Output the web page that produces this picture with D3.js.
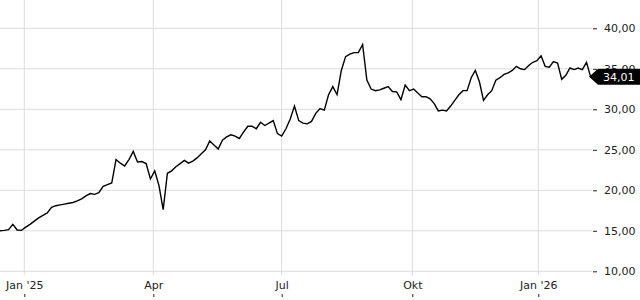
<!DOCTYPE html>
<html>
  <head>
    <meta charset="utf-8">
    <title>Kursverlauf</title>
    <style>
      body { margin: 0; background: #fff; }
      text { font-family: "DejaVu Sans", sans-serif; }
    </style>
  </head>
  <body>
    <script src="https://cdn.jsdelivr.net/npm/d3@7"></script>
    <script type="text/javascript">
      // x axis anchors and labels
      var tickDates = ["2025-01-01", "2025-04-01", "2025-07-01", "2025-10-01", "2026-01-01"];
      var tickLabels = ["Jan '25", "Apr", "Jul", "Okt", "Jan '26"];
      var yTicks = [10, 15, 20, 25, 30, 35, 40];

      // closing prices, one every 3 calendar days from startDate
      var startDate = "2024-12-15";
      var endDate = "2026-02-09";
      var stepDays = 3;
      var prices = [
        15.0, 15.05, 15.15, 15.8, 15.1, 15.05, 15.45, 15.8, 16.2, 16.6,
        16.9, 17.2, 17.9, 18.1, 18.2, 18.3, 18.4, 18.5, 18.7, 18.95,
        19.3, 19.6, 19.5, 19.7, 20.5, 20.7, 20.9, 23.8, 23.35, 23.0,
        23.8, 24.8, 23.5, 23.55, 23.3, 21.4, 22.4, 20.6, 17.6, 22.1,
        22.4, 22.9, 23.3, 23.7, 23.35, 23.6, 24.0, 24.5, 25.0, 26.1,
        25.6, 25.1, 26.2, 26.6, 26.85, 26.7, 26.4, 27.2, 27.9, 27.9,
        27.6, 28.4, 28.0, 28.3, 28.6, 27.0, 26.7, 27.6, 28.8, 30.4,
        28.6, 28.3, 28.2, 28.5, 29.5, 30.1, 29.9, 31.8, 32.8, 31.8,
        34.8, 36.5, 36.8, 37.0, 37.0, 38.0, 33.6, 32.5, 32.3, 32.4,
        32.6, 32.8, 32.2, 32.15, 31.2, 33.0, 32.3, 32.5, 32.0, 31.55,
        31.55, 31.3, 30.7, 29.8, 29.9, 29.8, 30.4, 31.1, 31.8, 32.3,
        32.3, 33.9, 34.8, 33.4, 31.1, 31.8, 32.3, 33.6, 33.9, 34.3,
        34.5, 34.8, 35.3, 35.0, 34.9, 35.4, 35.8, 36.0, 36.6, 35.3,
        35.2, 35.9, 35.7, 33.7, 34.2, 35.1, 34.9, 35.1, 34.9, 35.8,
        34.01
      ];
      var lastPrice = 34.01;

      var width = 640;
      var height = 300;
      var plotRight = 592;
      var plotTop = 28.3;
      var plotBottom = 271.3;

      var parse = d3.utcParse("%Y-%m-%d");
      var t0 = parse(startDate);
      var data = prices.map(function(v, i) {
        return { date: d3.utcDay.offset(t0, i * stepDays), value: v };
      });

      var de = d3.formatLocale({ decimal: ",", thousands: ".", grouping: [3], currency: ["", " €"] });
      var fmt = de.format(".2f");

      // piecewise time scale so the quarter gridlines line up with the reference
      var x = d3.scaleUtc()
        .domain([t0].concat(tickDates.map(parse), [parse(endDate)]))
        .range([0, 24.3, 153.3, 281.7, 412.3, 538.3, plotRight]);
      var y = d3.scaleLinear().domain([10, 40]).range([plotBottom, plotTop]);

      var svg = d3.select("body").append("svg")
        .attr("width", width)
        .attr("height", height);

      // horizontal grid
      svg.append("g").selectAll("line")
        .data(yTicks).enter().append("line")
        .attr("x1", 0).attr("x2", plotRight)
        .attr("y1", function(d) { return y(d); })
        .attr("y2", function(d) { return y(d); })
        .attr("stroke", "#dcdcdc").attr("stroke-width", 1);

      // vertical grid
      svg.append("g").selectAll("line")
        .data(tickDates.map(parse)).enter().append("line")
        .attr("x1", function(d) { return x(d); })
        .attr("x2", function(d) { return x(d); })
        .attr("y1", 0).attr("y2", plotBottom + 4)
        .attr("stroke", "#dcdcdc").attr("stroke-width", 1);

      // right y axis
      var yAxis = d3.axisRight(y)
        .tickValues(yTicks)
        .tickSize(4)
        .tickPadding(7)
        .tickFormat(fmt);
      var gy = svg.append("g")
        .attr("transform", "translate(" + (plotRight + 1) + ",0)")
        .call(yAxis);
      gy.select(".domain").remove();
      gy.selectAll(".tick line").attr("stroke", "#222");
      gy.selectAll(".tick text")
        .attr("fill", "#222")
        .style("font-size", "11px")
        .style("font-family", "'DejaVu Sans', sans-serif");

      // bottom x axis
      var xAxis = d3.axisBottom(x)
        .tickValues(tickDates.map(parse))
        .tickSize(3)
        .tickFormat(function(d, i) { return tickLabels[i]; });
      var gx = svg.append("g")
        .attr("transform", "translate(0," + (height - 6) + ")")
        .call(xAxis);
      gx.select(".domain").remove();
      gx.selectAll(".tick line").attr("stroke", "#222");
      gx.selectAll(".tick text")
        .attr("y", -13)
        .attr("fill", "#222")
        .style("font-size", "11px")
        .style("font-family", "'DejaVu Sans', sans-serif");

      // price line
      var line = d3.line()
        .x(function(d) { return x(d.date); })
        .y(function(d) { return y(d.value); });

      svg.append("path")
        .datum(data)
        .attr("fill", "none")
        .attr("stroke", "#000")
        .attr("stroke-width", 1.4)
        .attr("stroke-linejoin", "miter")
        .attr("d", line);

      // last price marker
      var ly = y(lastPrice);
      var tag = svg.append("g").attr("transform", "translate(0," + ly + ")");
      tag.append("path")
        .attr("d", "M" + (plotRight - 3) + ",0 L" + (plotRight + 6) + ",-8 L" + width + ",-8 L" + width + ",8 L" + (plotRight + 6) + ",8 Z")
        .attr("fill", "#000");
      tag.append("text")
        .attr("x", plotRight + 11)
        .attr("dy", "0.35em")
        .attr("fill", "#fff")
        .style("font-size", "11px")
        .text(fmt(lastPrice));
    </script>
  </body>
</html>
